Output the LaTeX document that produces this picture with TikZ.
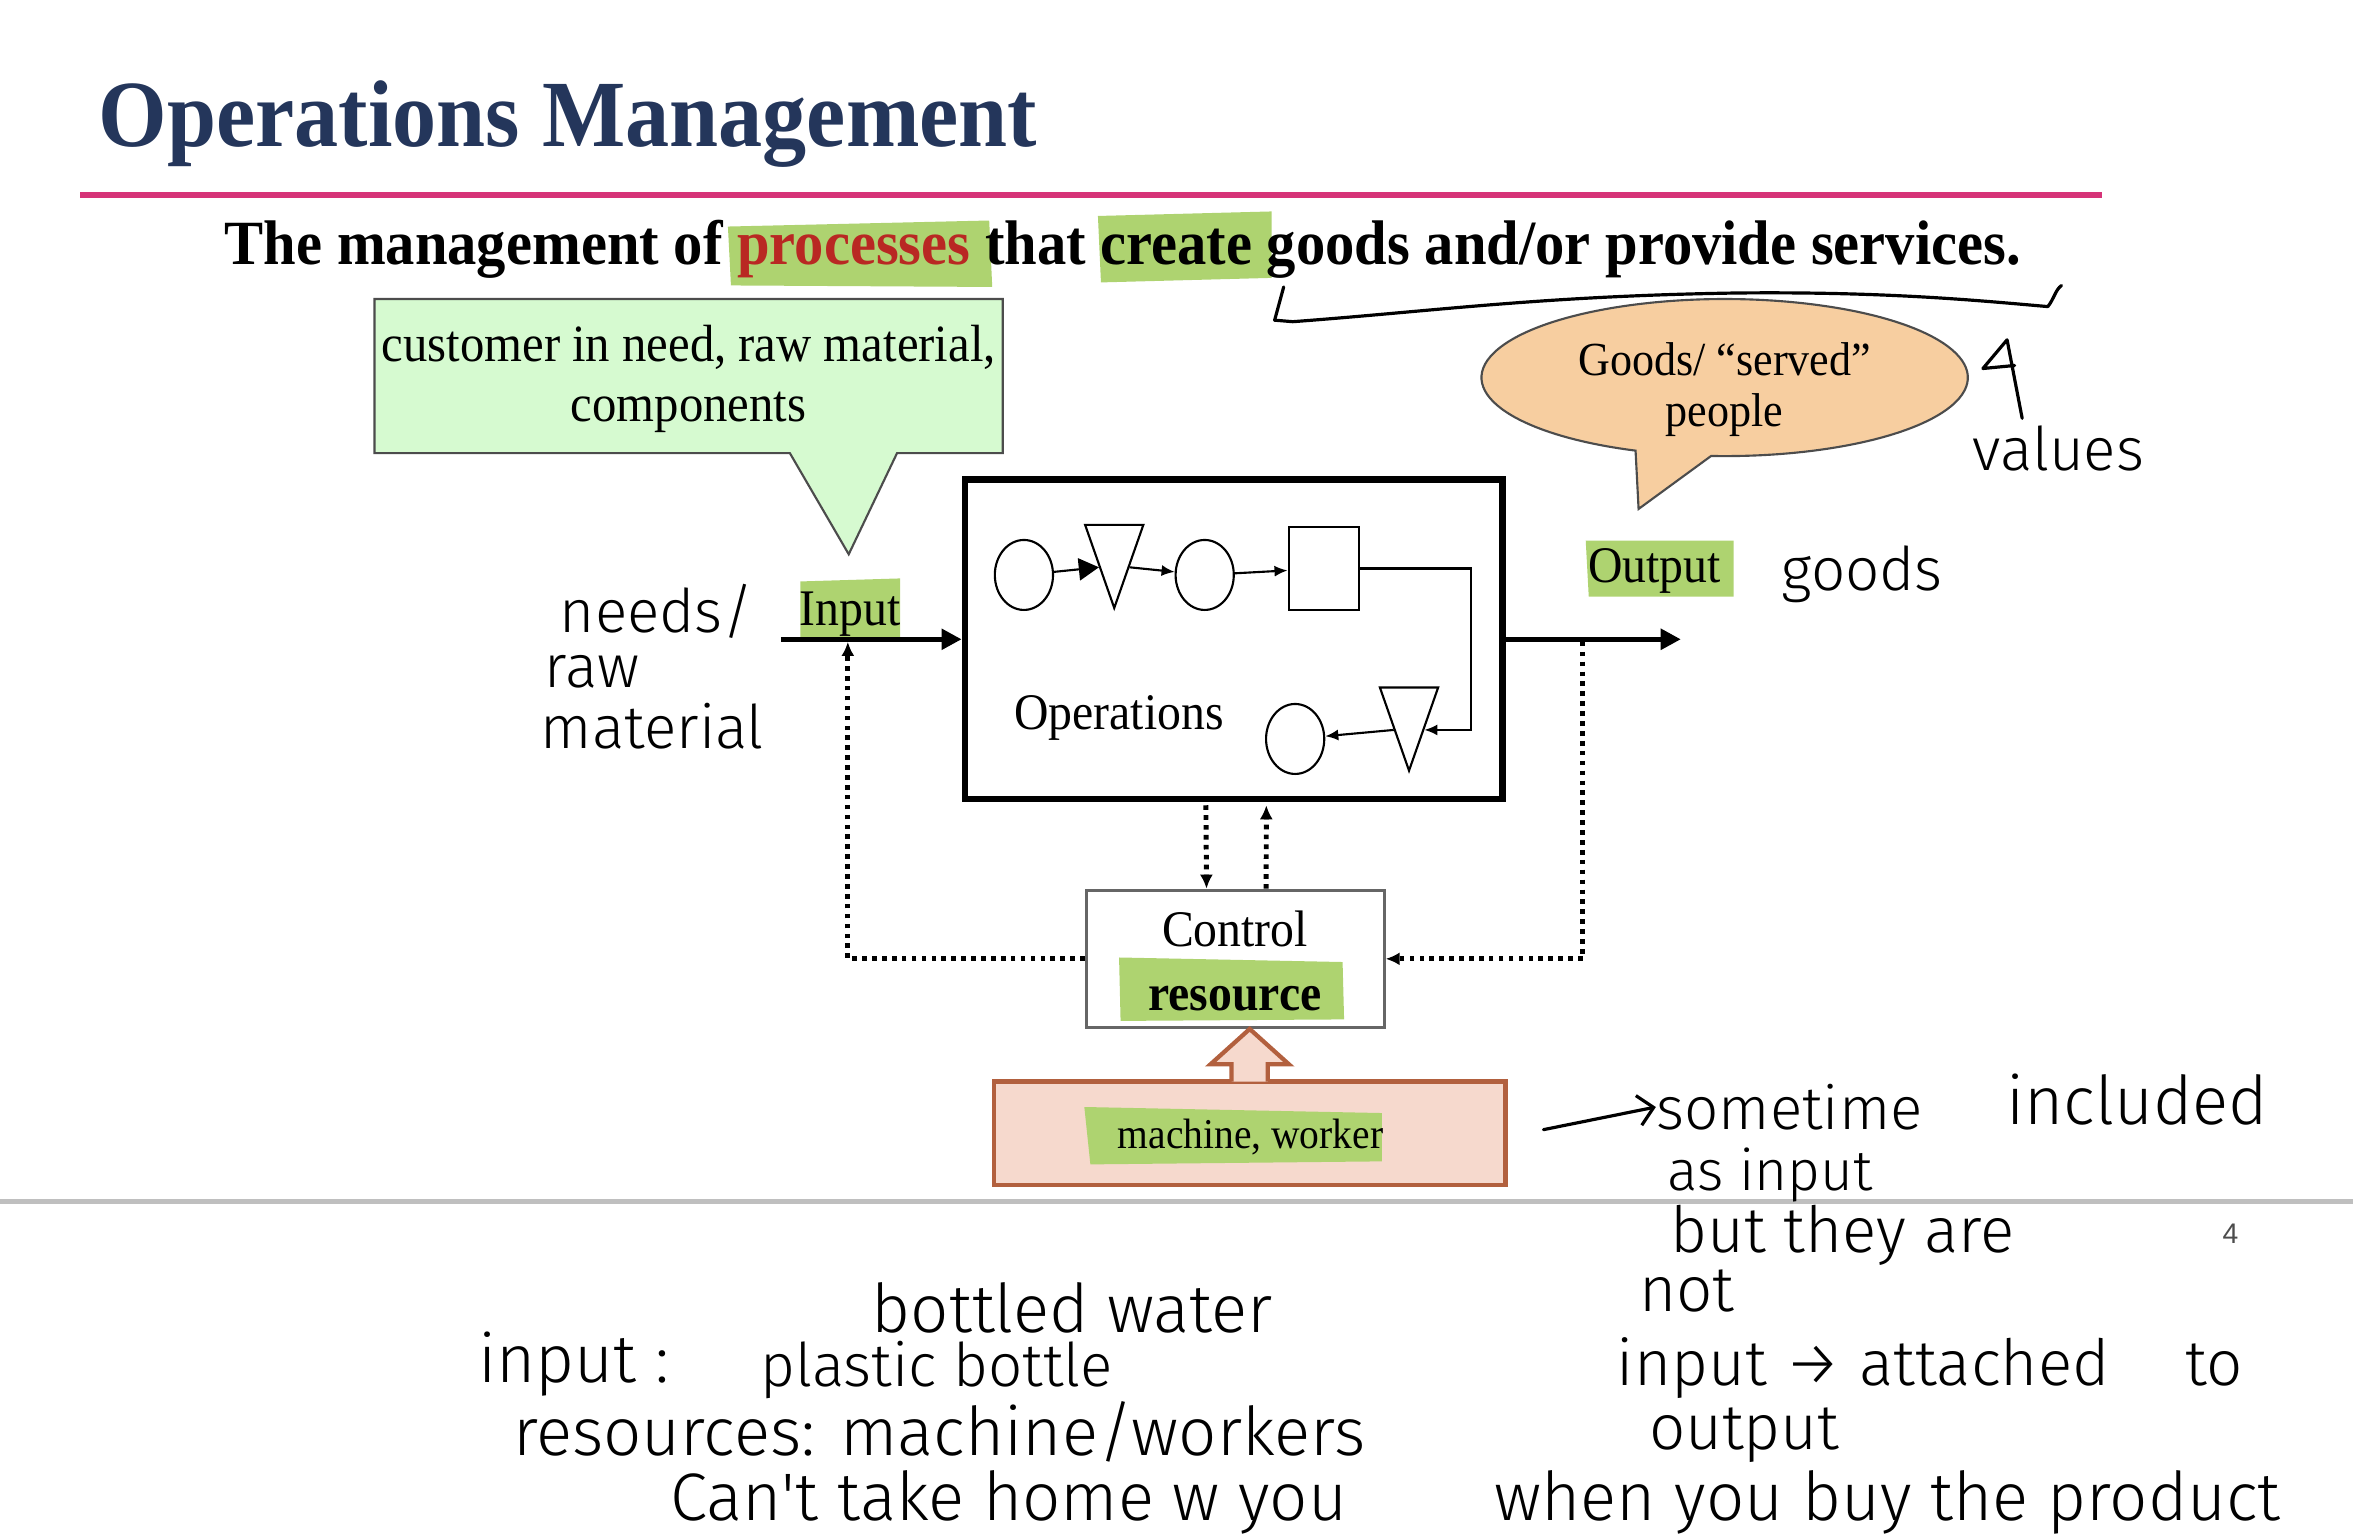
\documentclass[tikz,border=0pt]{standalone}
\usepackage{fontspec}
\setmainfont{Liberation Serif}[FakeStretch=0.93]
\newfontfamily\handfont{Fira Sans Light}
\newfontfamily\pagefont{Liberation Sans}
\usepackage{tikz}
\usetikzlibrary{positioning,calc}
\usetikzlibrary{arrows.meta,shapes.geometric}
\definecolor{TitleNavy}{RGB}{36,54,91}
\definecolor{RulePink}{RGB}{214,51,120}
\definecolor{ProcRed}{RGB}{185,40,35}
\definecolor{MarkGreen}{RGB}{174,211,112}
\definecolor{CallGreen}{RGB}{214,250,208}
\definecolor{BubblePeach}{RGB}{247,206,160}
\definecolor{ResFill}{RGB}{246,217,205}
\definecolor{ResBrown}{RGB}{178,96,62}
\tikzset{
  slide/.style={inner sep=0pt,font=\fontsize{14.5}{17}\selectfont},
  hand/.style={inner sep=0pt,font=\handfont\fontsize{19}{21}\selectfont},
  handmd/.style={inner sep=0pt,font=\handfont\fontsize{18}{20}\selectfont},
  handsm/.style={inner sep=0pt,font=\handfont\fontsize{17}{19}\selectfont},
  ink/.style={draw=black,line width=0.9pt,line cap=round,line join=round},
  marker/.style={fill=MarkGreen},
  opsbox/.style={draw=black,line width=1.9pt,minimum width=5.34cm,minimum height=3.17cm,inner sep=0pt},
  stn/.style={ellipse,draw=black,line width=0.6pt,minimum width=0.578cm,minimum height=0.695cm,inner sep=0pt},
  tri/.style={isosceles triangle,isosceles triangle stretches,shape border rotate=270,draw=black,
    line width=0.6pt,inner sep=0pt,minimum width=0.578cm,minimum height=0.825cm},
  sqr/.style={rectangle,draw=black,line width=0.6pt,minimum width=0.70cm,minimum height=0.83cm,inner sep=0pt},
  flow/.style={draw=black,line width=0.6pt,-{Latex[length=0.13cm,width=0.11cm]}},
  io/.style={draw=black,line width=1.5pt,-{Triangle[length=0.2cm,width=0.2cm]}},
  fb/.style={draw=black,line width=1.4pt,dash pattern=on 1.3pt off 1.5pt,-{Latex[length=0.14cm,width=0.13cm]}},
  ctrlbox/.style={draw=black!60,line width=0.8pt,minimum width=2.96cm,minimum height=1.365cm,inner sep=0pt},
  resbox/.style={draw=ResBrown,fill=ResFill,line width=1.2pt,minimum width=5.08cm,minimum height=1.03cm,inner sep=0pt},
}

\begin{document}
\begin{tikzpicture}[x=0.015cm,y=-0.015cm]
\useasboundingbox (0,0) rectangle (1568,1017);
\node[inner sep=0pt,anchor=base west,text=TitleNavy,font=\bfseries\fontsize{26.8}{30}\selectfont] (title) at (65,97) {Operations Management};
\draw[draw=RulePink,line width=1.7pt] (53,129) -- (1392,129);
\fill[marker] (482,150) -- (655,146) -- (657,190) -- (484,189) -- cycle;
\fill[marker] (727,143) -- (842,140) -- (842,184) -- (729,187) -- cycle;
\node[inner sep=0pt,anchor=base,font=\bfseries\fontsize{17.8}{20}\selectfont] (sub) at (743.5,175) {The management of \textcolor{ProcRed}{processes} that create goods and/or provide services.};
\draw[draw=black!70,fill=CallGreen,line width=0.6pt] (248,198) -- (664,198) -- (664,300) -- (594,300) -- (562,367) -- (523,300) -- (248,300) -- cycle;
\node[slide,align=center,font=\fontsize{14.8}{16.8}\selectfont] (need) at (456,251) {customer in need, raw material,\\components};
\draw[draw=black!70,fill=BubblePeach,line width=0.6pt] (1085,337) -- ($(1142,250)+(111.5:161 and 52)$) arc[start angle=111.5,end angle=453.2,x radius=161,y radius=52] -- cycle;
\node[slide,align=center,font=\fontsize{13.4}{14.6}\selectfont] (served) at (1142,258) {Goods/ “served”\\people};
\node[opsbox] (ops) at (817,423.3) {};
\node[stn] (c1) at (678,380.7) {};
\node[tri,anchor=apex] (t1) at (737.8,404.4) {};
\node[stn] (c2) at (797.7,380.7) {};
\node[sqr] (sq) at (876.6,376.4) {};
\node[tri,anchor=apex] (t2) at (933,512.1) {};
\node[stn] (c3) at (857.6,489.3) {};
\node[slide,anchor=base] (opslbl) at (741,483) {Operations};
\draw[flow,-{Triangle[length=0.2cm,width=0.22cm]}] (c1) -- ($(t1.apex)!0.5!(t1.right corner)$);
\draw[flow] ($(t1.apex)!0.5!(t1.left corner)$) -- (c2);
\draw[flow] (c2) -- (sq);
\draw[flow] (sq.east) -- ++(73.5,0) |- ($(t2.apex)!0.5!(t2.left corner)$);
\draw[flow] ($(t2.apex)!0.5!(t2.right corner)$) -- (c3);
\coordinate (inStart) at (517,423.3);
\coordinate (outEnd) at (1113,423.3);
\coordinate (inJoin) at (561.4,425);
\coordinate (outJoin) at (1048,425);
\fill[marker] (530,385) -- (596,383) -- (596,423) -- (530,423) -- cycle;
\node[slide,anchor=base] (inlbl) at (563,414) {Input};
\fill[marker] (1050,358) -- (1148,358) -- (1148,395) -- (1052,395) -- cycle;
\node[slide,anchor=base] (outlbl) at (1095.6,386) {Output};
\draw[io] (inStart) -- (ops.west);
\draw[io] (ops.east) -- (outEnd);
\node[ctrlbox] (ctrl) at (817.9,634.9) {};
\fill[marker] (741,634) -- (889,637) -- (890,675) -- (742,676) -- cycle;
\node[slide,anchor=base] (ctrllbl) at (817.8,627) {Control};
\node[slide,anchor=base,font=\bfseries\fontsize{14.5}{17}\selectfont] (reslbl) at (817.7,669) {resource};
\draw[fb] ($(ops.south)+(-18.5,2)$) -- ($(ctrl.north)+(-19,0)$);
\draw[fb] ($(ctrl.north)+(20.5,0)$) -- ($(ops.south)+(21.5,2)$);
\draw[fb] (ctrl.west) -| (inJoin);
\draw[fb] (outJoin) |- (ctrl.east);
\node[resbox] (mw) at (827.5,750.5) {};
\filldraw[draw=ResBrown,fill=ResFill,line width=1.2pt,line join=miter] ($(mw.north)+(-12,1.5)$) -- ($(mw.north)+(-12,-10)$) -- ($(mw.north)+(-26,-10)$) -- (ctrl.south -| mw.north) -- ($(mw.north)+(26,-10)$) -- ($(mw.north)+(12,-10)$) -- ($(mw.north)+(12,1.5)$);
\fill[marker] (718,733) -- (915,737) -- (915,769) -- (722,771) -- cycle;
\node[slide,anchor=base,font=\fontsize{12}{14}\selectfont] (mwlbl) at (828,760.5) {machine, worker};
\draw[draw=black!25,line width=1.2pt] (0,795.5) -- (1558,795.5);
\node[inner sep=0pt,text=black!70,font=\pagefont\fontsize{8}{9}\selectfont] (pg) at (1477,817) {4};
\draw[ink] (850,190) -- (844,212) -- (856,213) .. controls (950,206) and (1020,196) .. (1150,194) .. controls (1250,193) and (1310,199) .. (1356,203) .. controls (1360,198) and (1361,192) .. (1365,189);
\draw[ink] (1339,277) -- (1329,225) -- (1313,244) -- (1334,242);
\node[handsm] (values) at (1363,297) {values};
\node[handsm] (goodsnote) at (1233,380) {goods};
\node[handsm] (needs) at (435,405) {needs/};
\node[handsm] (raw) at (392,445) {raw};
\node[handsm] (material) at (432,481) {material};
\node[handsm] (sometime) at (1185,733) {sometime};
\node[hand] (included) at (1415,728) {included};
\node[inner sep=0pt,font=\handfont\fontsize{16}{18}\selectfont] (asinput) at (1172,778) {as input};
\coordinate (noteTail) at (1022,748);
\draw[ink,-{Straight Barb[length=0.15cm]}] (noteTail) -- (sometime.west);
\node[handmd] (buttheyare) at (1220,818) {but they are};
\node[handmd] (notword) at (1117,855) {not};
\node[handmd] (attached) at (1278,906) {input → attached\hspace{1.2em}to};
\node[handmd] (outputnote) at (1155,950) {output};
\node[hand] (bottled) at (710,866) {bottled water};
\node[hand] (inputnote) at (380,903) {input :};
\node[handsm] (plastic) at (620,907) {plastic bottle};
\node[hand] (resources) at (622,948) {resources: machine/workers};
\node[hand] (cant) at (668,995) {Can't take home w you};
\node[hand] (whenyou) at (1250,995) {when you buy the product};
\end{tikzpicture}
\end{document}
